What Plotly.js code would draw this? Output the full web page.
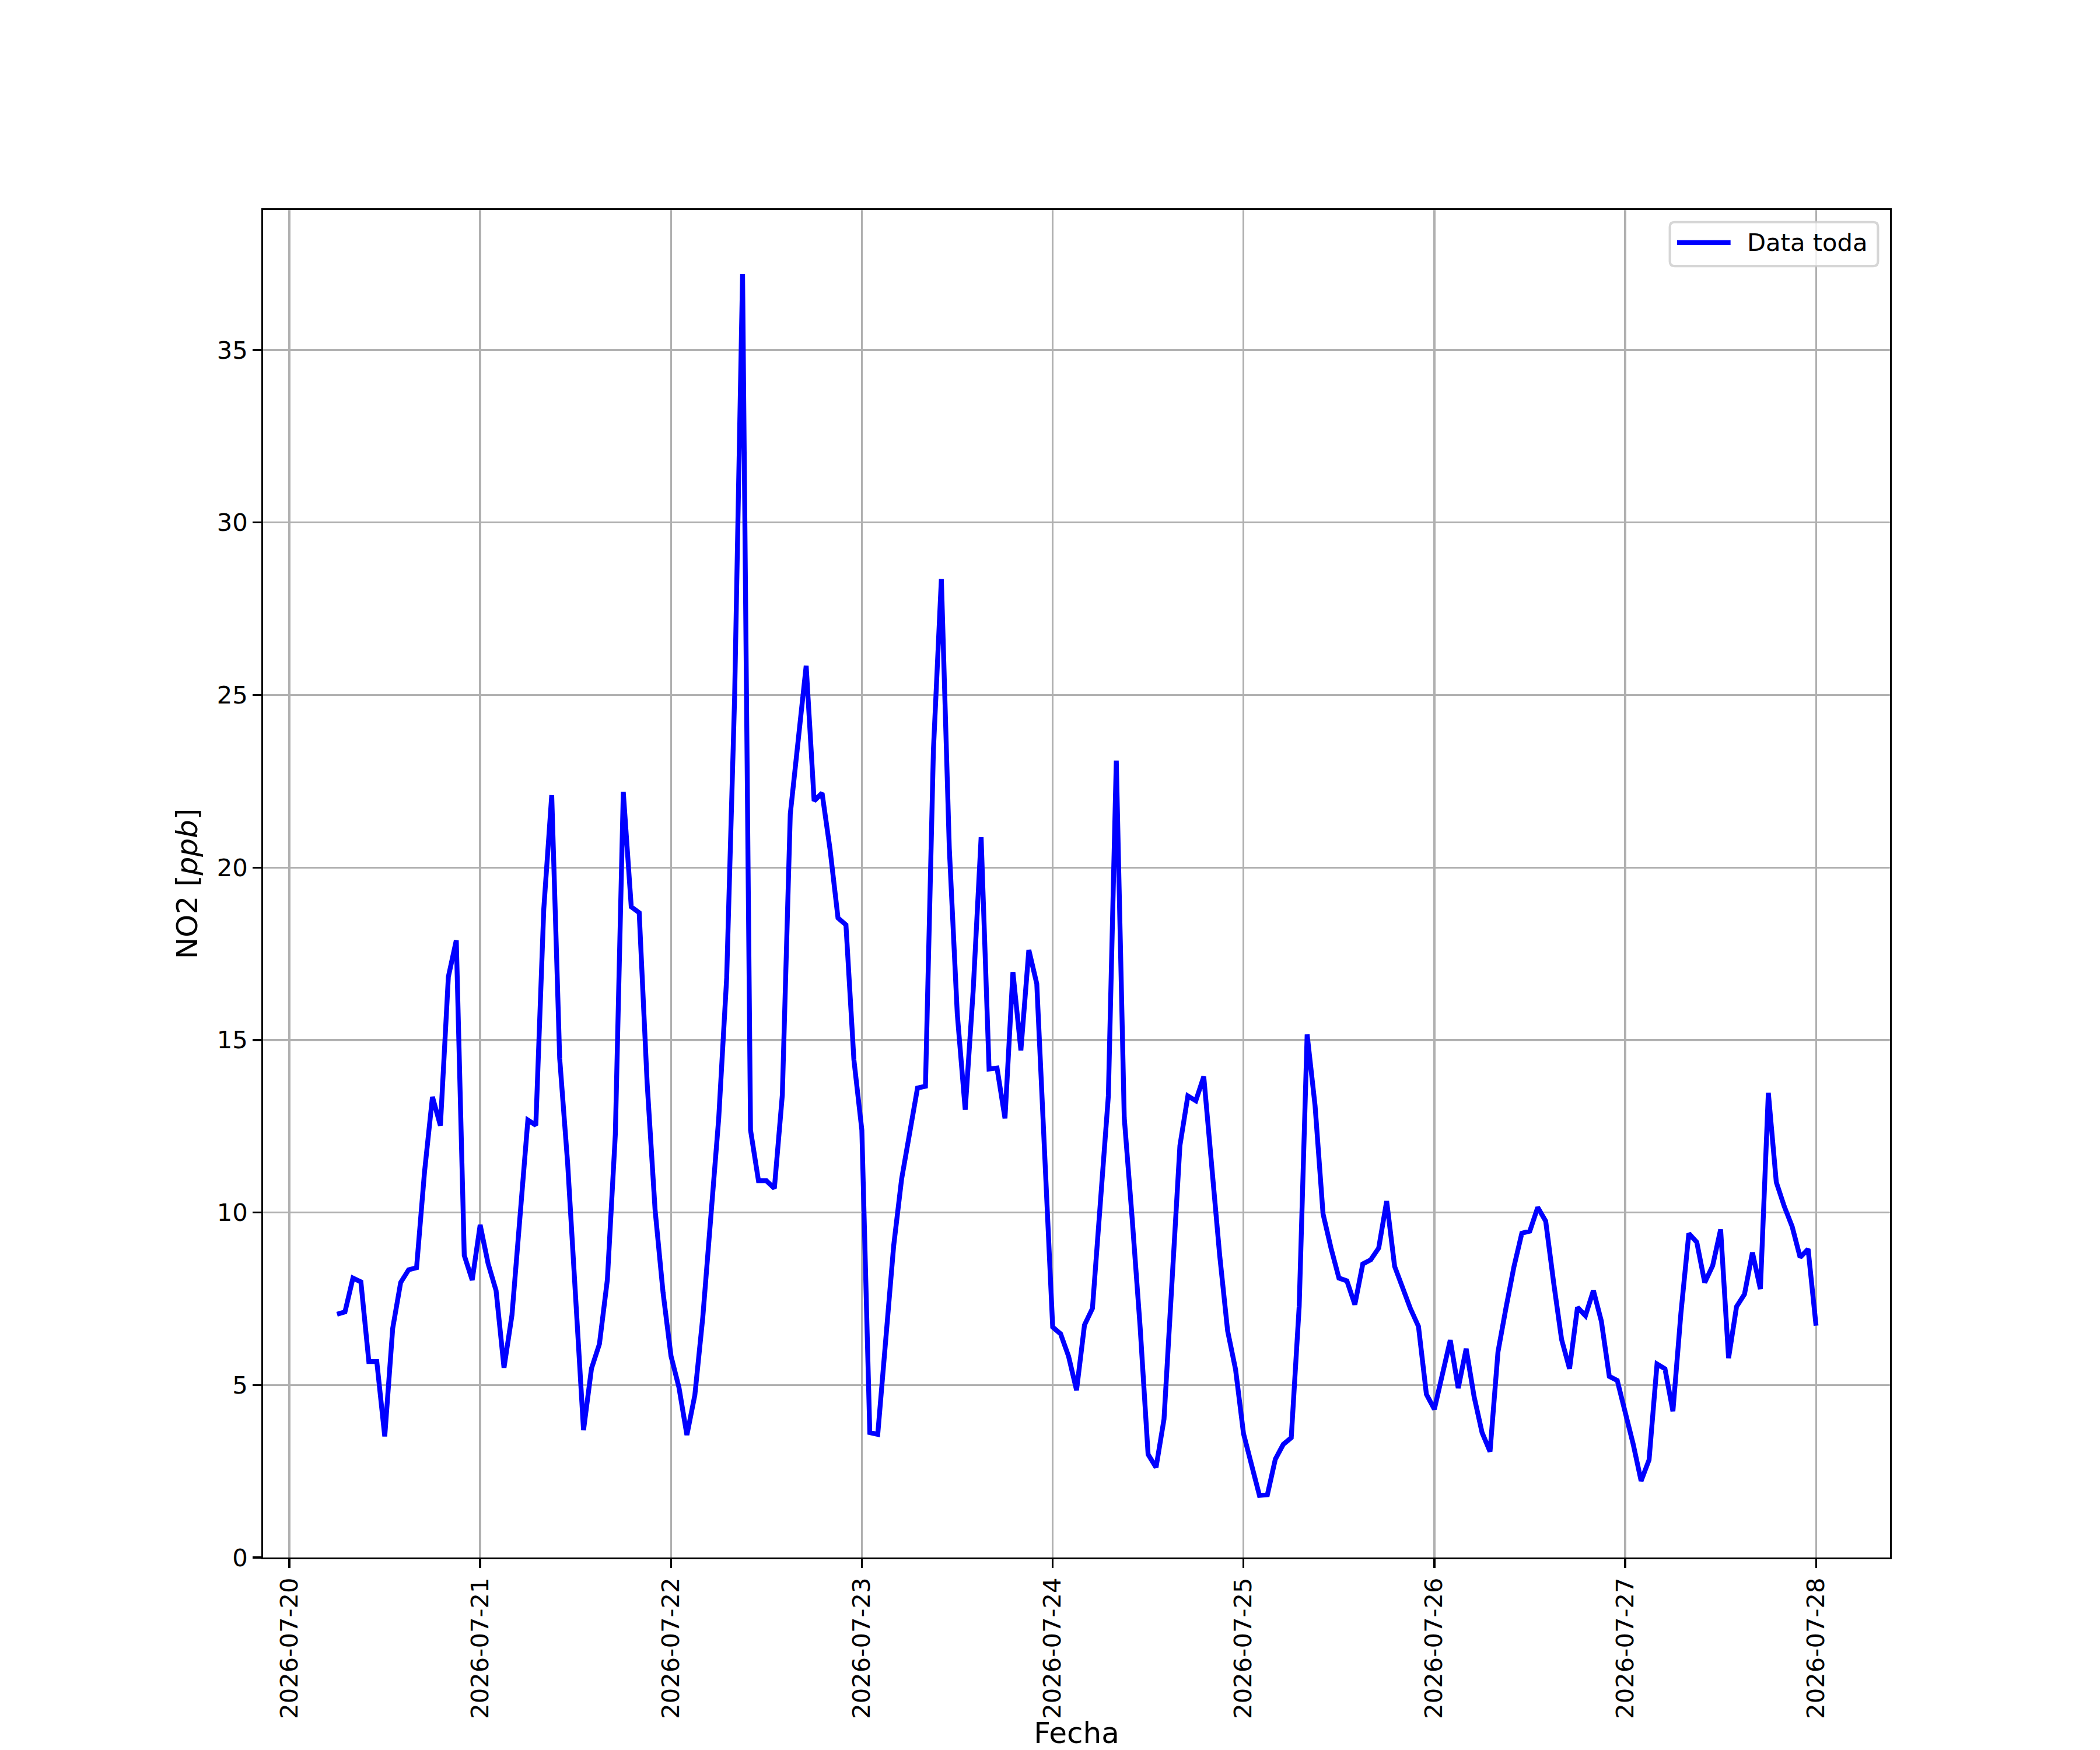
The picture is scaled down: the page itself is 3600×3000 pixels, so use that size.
<!DOCTYPE html>
<html>
<head>
<meta charset="utf-8">
<script src="https://cdn.plot.ly/plotly-3.0.1.min.js"></script>
<style>
  html, body { margin: 0; padding: 0; background: white; }
  #no2_plot { width: 3600px; height: 3000px; }
</style>
</head>
<body>
<div id="no2_plot"></div>
<script>
// hourly NO2 [ppb], first reading 2026-07-20 06:00
const firstReading = '2026-07-20T06:00:00';
const no2_0720 = [7.05, 7.12, 8.10, 7.99, 5.68, 5.68, 3.51, 6.64, 7.97, 8.34, 8.40, 11.17, 13.35, 12.52, 16.83, 17.89, 8.76, 8.04];
const no2_0721 = [9.64, 8.52, 7.74, 5.50, 7.03, 9.75, 12.68, 12.53, 18.80, 22.10, 14.47, 11.43, 7.55, 3.69, 5.48, 6.19, 8.06, 12.27, 22.19, 18.86, 18.69, 13.75, 10.07, 7.68];
const no2_0722 = [5.84, 4.93, 3.55, 4.71, 6.97, 10.02, 12.73, 16.80, 24.94, 37.20, 12.39, 10.92, 10.92, 10.70, 13.41, 21.55, 23.58, 25.85, 21.93, 22.16, 20.53, 18.54, 18.34, 14.43];
const no2_0723 = [12.39, 3.62, 3.57, 6.51, 9.03, 10.97, 12.31, 13.61, 13.66, 23.40, 28.36, 20.55, 15.76, 12.98, 16.43, 20.88, 14.16, 14.19, 12.73, 16.97, 14.70, 17.61, 16.63, 11.72];
const no2_0724 = [6.68, 6.48, 5.83, 4.85, 6.74, 7.22, 10.16, 13.38, 23.10, 12.75, 9.81, 6.67, 2.99, 2.61, 4.01, 8.06, 11.94, 13.38, 13.24, 13.94, 11.35, 8.76, 6.57, 5.45];
const no2_0725 = [3.59, 2.67, 1.80, 1.82, 2.85, 3.28, 3.47, 7.28, 15.16, 13.09, 9.96, 8.97, 8.10, 8.02, 7.33, 8.51, 8.63, 8.97, 10.33, 8.44, 7.83, 7.21, 6.70, 4.73];
const no2_0726 = [4.30, 5.34, 6.30, 4.91, 6.05, 4.66, 3.62, 3.07, 5.96, 7.23, 8.42, 9.40, 9.46, 10.15, 9.75, 7.97, 6.32, 5.47, 7.25, 7.01, 7.74, 6.85, 5.25, 5.13];
const no2_0727 = [4.21, 3.29, 2.22, 2.83, 5.61, 5.47, 4.24, 7.07, 9.39, 9.14, 7.97, 8.46, 9.51, 5.78, 7.27, 7.63, 8.84, 7.78, 13.47, 10.88, 10.18, 9.59, 8.70, 8.94];
const no2_0728 = [6.72];

const dayTicks = ['2026-07-20', '2026-07-21', '2026-07-22', '2026-07-23', '2026-07-24',
                  '2026-07-25', '2026-07-26', '2026-07-27', '2026-07-28'];
const yTicks = [0, 5, 10, 15, 20, 25, 30, 35];
const seriesName = 'Data toda';

const no2 = [].concat(no2_0720, no2_0721, no2_0722, no2_0723, no2_0724,
                      no2_0725, no2_0726, no2_0727, no2_0728);

// timestamps, one per hour
const t0 = new Date(firstReading + 'Z').getTime();
const pad2 = n => String(n).padStart(2, '0');
const times = no2.map((_, i) => {
  const d = new Date(t0 + i * 3600 * 1000);
  return `${d.getUTCFullYear()}-${pad2(d.getUTCMonth() + 1)}-${pad2(d.getUTCDate())} ${pad2(d.getUTCHours())}:00`;
});

// matplotlib-like 5% margins on the time axis
const tFirst = t0, tLast = t0 + (no2.length - 1) * 3600 * 1000;
const span = tLast - tFirst;
const fmt = ms => new Date(ms).toISOString().replace('T', ' ').slice(0, 19);
const xRange = [fmt(tFirst - 0.05 * span), fmt(tLast + 0.05 * span)];
const yRange = [0, Math.max(...no2) * 1.05];

const font = 'DejaVu Sans, Liberation Sans, sans-serif';
const pt = 300 / 72; // reference was rendered at 300 dpi

const trace = {
  x: times,
  y: no2,
  type: 'scatter',
  mode: 'lines',
  name: seriesName,
  line: { color: '#0000ff', width: 2 * pt },
  showlegend: false,
  hoverinfo: 'x+y'
};

// legend box drawn by hand (rounded frame, long line sample)
const lg = { x0: 0.8647, x1: 0.9926, y0: 0.9584, y1: 0.9910, rx: 0.0029, ry: 0.0035 };
const roundedBox = `M ${lg.x0 + lg.rx},${lg.y1} L ${lg.x1 - lg.rx},${lg.y1} Q ${lg.x1},${lg.y1} ${lg.x1},${lg.y1 - lg.ry}` +
  ` L ${lg.x1},${lg.y0 + lg.ry} Q ${lg.x1},${lg.y0} ${lg.x1 - lg.rx},${lg.y0}` +
  ` L ${lg.x0 + lg.rx},${lg.y0} Q ${lg.x0},${lg.y0} ${lg.x0},${lg.y0 + lg.ry}` +
  ` L ${lg.x0},${lg.y1 - lg.ry} Q ${lg.x0},${lg.y1} ${lg.x0 + lg.rx},${lg.y1} Z`;

const layout = {
  width: 3600,
  height: 3000,
  margin: { l: 451, r: 360, t: 360, b: 330 },
  paper_bgcolor: 'white',
  plot_bgcolor: 'white',
  font: { family: font, size: 10 * pt, color: 'black' },
  xaxis: {
    type: 'date',
    range: xRange,
    tickmode: 'array',
    tickvals: dayTicks,
    ticktext: dayTicks,
    tickangle: -90,
    ticks: 'outside',
    ticklen: 3.5 * pt,
    tickwidth: 0.8 * pt,
    tickcolor: 'black',
    showgrid: true,
    gridcolor: '#b0b0b0',
    gridwidth: 0.8 * pt,
    zeroline: false,
    showline: true,
    mirror: true,
    linecolor: 'black',
    linewidth: 0.8 * pt,
    tickfont: { family: font, size: 10 * pt },
    title: { text: 'Fecha', font: { family: font, size: 12 * pt }, standoff: 21 },
    automargin: false
  },
  yaxis: {
    range: yRange,
    tickmode: 'array',
    tickvals: yTicks,
    ticks: 'outside',
    ticklen: 3.5 * pt,
    tickwidth: 0.8 * pt,
    tickcolor: 'black',
    showgrid: true,
    gridcolor: '#b0b0b0',
    gridwidth: 0.8 * pt,
    zeroline: false,
    showline: true,
    mirror: true,
    linecolor: 'black',
    linewidth: 0.8 * pt,
    tickfont: { family: font, size: 10 * pt },
    title: { text: 'NO2 [<i>ppb</i>]', font: { family: font, size: 12 * pt }, standoff: 18 },
    automargin: false
  },
  shapes: [
    {
      type: 'path', xref: 'paper', yref: 'paper', layer: 'above',
      path: roundedBox,
      fillcolor: 'rgba(255,255,255,0.8)',
      line: { color: 'rgba(204,204,204,0.8)', width: 1.0 * pt }
    },
    {
      type: 'line', xref: 'paper', yref: 'paper', layer: 'above',
      x0: 0.8691, x1: 0.9020, y0: 0.9758, y1: 0.9758,
      line: { color: '#0000ff', width: 2 * pt }
    }
  ],
  annotations: [
    {
      xref: 'paper', yref: 'paper', x: 0.9115, y: 0.9758,
      xanchor: 'left', yanchor: 'middle', showarrow: false,
      text: seriesName,
      font: { family: font, size: 10 * pt, color: 'black' }
    }
  ]
};

Plotly.newPlot('no2_plot', [trace], layout, { displayModeBar: false, staticPlot: true });
</script>
</body>
</html>
